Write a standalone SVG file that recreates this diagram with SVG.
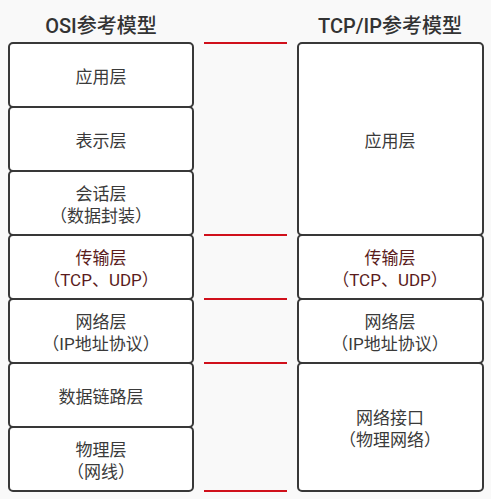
<svg xmlns="http://www.w3.org/2000/svg" width="491" height="499" viewBox="0 0 491 499">
<style>
.bg{fill:#f9f9f9}
.box{fill:#fff;stroke:#383838;stroke-width:2}
.t{font-family:Roboto,"Noto Sans CJK SC",sans-serif;font-size:17px;fill:#3a3a3a;text-anchor:middle}
.tr{fill:#5a1c1c}
.h{font-family:Roboto,"Noto Sans CJK SC",sans-serif;font-size:20px;font-weight:500;fill:#333;text-anchor:middle}
.red{stroke:#d0101b;stroke-width:2}
</style>
<rect class="bg" x="0" y="0" width="491" height="499"/>
<text class="h" x="101" y="33">OSI参考模型</text>
<text class="h" x="390" y="33">TCP/IP参考模型</text>
<g id="osi-app"><rect class="box" x="9" y="43" width="184" height="64" rx="4"/><text class="t" x="101" y="83">应用层</text></g>
<g id="osi-pres"><rect class="box" x="9" y="107" width="184" height="64" rx="4"/><text class="t" x="101" y="147">表示层</text></g>
<g id="osi-sess"><rect class="box" x="9" y="171" width="184" height="64" rx="4"/><text class="t" x="101" y="200">会话层</text><text class="t" x="101" y="222">（数据封装）</text></g>
<g id="osi-trans"><rect class="box" x="9" y="235" width="184" height="64" rx="4"/><text class="t tr" x="101" y="264">传输层</text><text class="t tr" x="101" y="286">（TCP、UDP）</text></g>
<g id="osi-net"><rect class="box" x="9" y="299" width="184" height="64" rx="4"/><text class="t" x="101" y="328">网络层</text><text class="t" x="101" y="350">（IP地址协议）</text></g>
<g id="osi-link"><rect class="box" x="9" y="363" width="184" height="64" rx="4"/><text class="t" x="101" y="403">数据链路层</text></g>
<g id="osi-phys"><rect class="box" x="9" y="427" width="184" height="64" rx="4"/><text class="t" x="101" y="456">物理层</text><text class="t" x="101" y="478">（网线）</text></g>
<g id="tcp-app"><rect class="box" x="298" y="43" width="185" height="192" rx="4"/><text class="t" x="390" y="147">应用层</text></g>
<g id="tcp-trans"><rect class="box" x="298" y="235" width="185" height="64" rx="4"/><text class="t tr" x="390" y="264">传输层</text><text class="t tr" x="390" y="286">（TCP、UDP）</text></g>
<g id="tcp-net"><rect class="box" x="298" y="299" width="185" height="64" rx="4"/><text class="t" x="390" y="328">网络层</text><text class="t" x="390" y="350">（IP地址协议）</text></g>
<g id="tcp-link"><rect class="box" x="298" y="363" width="185" height="128" rx="4"/><text class="t" x="390" y="424">网络接口</text><text class="t" x="390" y="446">（物理网络）</text></g>
<g id="connectors">
<line class="red" x1="204" y1="43" x2="287" y2="43"/>
<line class="red" x1="204" y1="235" x2="287" y2="235"/>
<line class="red" x1="204" y1="299" x2="287" y2="299"/>
<line class="red" x1="204" y1="363" x2="287" y2="363"/>
<line class="red" x1="204" y1="491" x2="287" y2="491"/>
</g>
</svg>
